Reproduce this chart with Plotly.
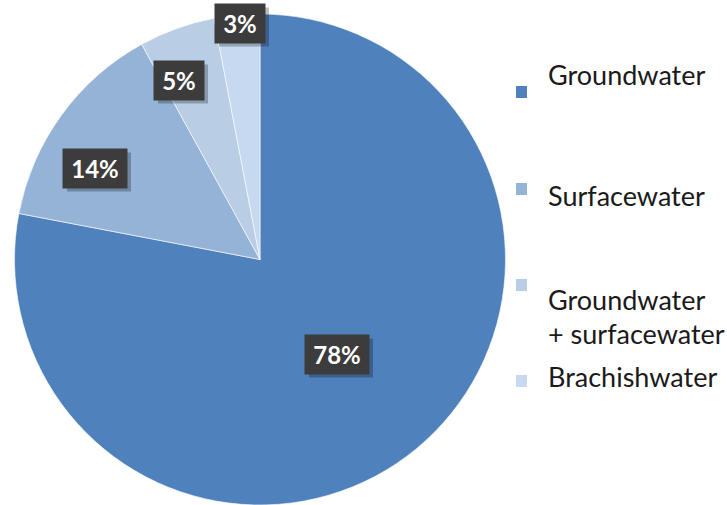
import plotly.graph_objects as go

# Share of water sources
labels = ["Groundwater", "Surfacewater", "Groundwater\n+ surfacewater", "Brachishwater"]
values = [78, 14, 5, 3]
colors = ["#4F81BD", "#95B3D7", "#B9CDE5", "#C6D9F1"]

W, H = 727, 505


def px(x, y):
    """Convert pixel coordinates to paper coordinates."""
    return x / W, 1 - y / H


fig = go.Figure(
    go.Pie(
        labels=[l.replace("\n", " ") for l in labels],
        values=values,
        sort=False,
        direction="clockwise",
        rotation=0,
        marker=dict(colors=colors, line=dict(color="white", width=0.6)),
        textinfo="none",
        hoverinfo="label+percent",
        domain=dict(x=[14 / W, 506 / W], y=[0, 1 - 14 / H]),
        showlegend=False,
    )
)

annotations = []
shapes = []

# Data labels: dark boxes with a soft drop shadow
label_pos = [(337, 354), (95, 168), (179, 80), (240, 23)]
total = sum(values)
for v, (cx, cy) in zip(values, label_pos):
    txt = f"{round(100 * v / total)}%"
    bw = 36 + 14 * (len(txt) - 1)
    bh = 39
    # shadow rectangle
    sx0, sy0 = px(cx - bw / 2 + 4, cy - bh / 2 + 4)
    sx1, sy1 = px(cx + bw / 2 + 4, cy + bh / 2 + 4)
    shapes.append(dict(type="rect", xref="paper", yref="paper", layer="above",
                       x0=sx0, x1=sx1, y0=sy1, y1=sy0,
                       fillcolor="rgba(0,0,0,0.25)", line=dict(width=0)))
    x, y = px(cx, cy)
    annotations.append(dict(
        x=x, y=y, xref="paper", yref="paper", xanchor="center", yanchor="middle",
        text=f"<b>{txt}</b>", showarrow=False,
        font=dict(family="Lato", size=24, color="white"),
        bgcolor="#3C3C3C", width=bw, height=bh, borderpad=0,
    ))

# Legend drawn beside the pie
marker_y = [92, 189, 285, 381]
text_y = [[74], [195], [299, 333], [376]]
for lab, col, my, tys in zip(labels, colors, marker_y, text_y):
    x0, y0 = px(516, my - 6)
    x1, y1 = px(527, my + 6)
    shapes.append(dict(type="rect", xref="paper", yref="paper",
                       x0=x0, x1=x1, y0=y1, y1=y0,
                       fillcolor=col, line=dict(width=0)))
    for line, ty in zip(lab.split("\n"), tys):
        x, y = px(546, ty)
        annotations.append(dict(
            x=x, y=y, xref="paper", yref="paper", xanchor="left", yanchor="middle",
            text=line, showarrow=False,
            font=dict(family="Lato", size=27, color="#1a1a1a"),
        ))

fig.update_layout(
    width=W, height=H,
    margin=dict(l=0, r=0, t=0, b=0),
    paper_bgcolor="white", plot_bgcolor="white",
    annotations=annotations, shapes=shapes,
)

fig.write_html("out.html")
